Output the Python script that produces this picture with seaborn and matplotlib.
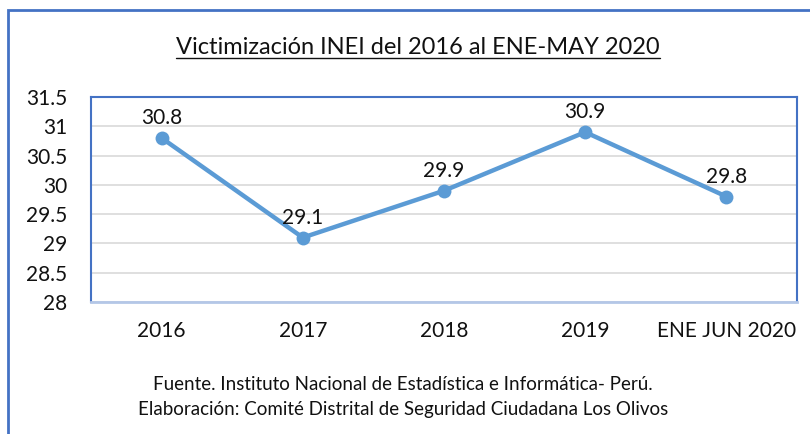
import numpy as np
import pandas as pd
import matplotlib
matplotlib.use("Agg")
import matplotlib.pyplot as plt
import matplotlib.patches as mpatches
from matplotlib.lines import Line2D
import seaborn as sns

# data
periodos = ["2016", "2017", "2018", "2019", "ENE JUN 2020"]
victimizacion = [30.8, 29.1, 29.9, 30.9, 29.8]
y_ticks = [28, 28.5, 29, 29.5, 30, 30.5, 31, 31.5]
y_labels = ["28", "28.5", "29", "29.5", "30", "30.5", "31", "31.5"]

df = pd.DataFrame({"periodo": periodos, "valor": victimizacion})

sns.set_style("white")
plt.rcParams["font.family"] = ["Lato", "DejaVu Sans"]

azul = "#5B9BD5"
marco = "#4472C4"

fig = plt.figure(figsize=(8.1, 4.34), dpi=100)
ax = fig.add_axes([91/810, 1-302/434, 706/810, 205/434])

sns.lineplot(data=df, x="periodo", y="valor", ax=ax, color=azul, linewidth=3.2,
             marker="o", markersize=10, markeredgewidth=0, sort=False)

# data labels
for i, v in enumerate(victimizacion):
    ax.annotate(f"{v}", (i, v), xytext=(0, 7), textcoords="offset points",
                ha="center", va="bottom", fontsize=15, color="#111111")

ax.set_xlim(-0.5, len(periodos) - 0.5)
ax.set_ylim(28, 31.5)
ax.set_yticks(y_ticks)
ax.set_yticklabels(y_labels)
ax.yaxis.grid(True, color="#D9D9D9", linewidth=1.2)
ax.set_axisbelow(True)
ax.set_xlabel("")
ax.set_ylabel("")
ax.tick_params(axis="both", length=0, labelsize=15, labelcolor="#111111")
ax.tick_params(axis="x", pad=14)
ax.tick_params(axis="y", pad=17)
for s in ["top", "left", "right"]:
    ax.spines[s].set_color(marco)
    ax.spines[s].set_linewidth(1.5)
ax.spines["bottom"].set_color("#B4C7E7")
ax.spines["bottom"].set_linewidth(2)

# title with underline
titulo = fig.text(418/810, 1-48/434, "Victimización INEI del 2016 al ENE-MAY 2020",
                  ha="center", va="center", fontsize=17, color="#111111")
fig.canvas.draw()
bb = titulo.get_window_extent().transformed(fig.transFigure.inverted())
fig.add_artist(Line2D([bb.x0, bb.x1], [bb.y0 + 0.002, bb.y0 + 0.002],
                      transform=fig.transFigure, color="#111111", linewidth=1))

# footer
fig.text(403/810, 1-385/434, "Fuente. Instituto Nacional de Estadística e Informática- Perú.",
         ha="center", va="center", fontsize=13.5, color="#111111")
fig.text(403/810, 1-410/434, "Elaboración: Comité Distrital de Seguridad Ciudadana Los Olivos",
         ha="center", va="center", fontsize=13.5, color="#111111")

# outer chart frame
fig.add_artist(mpatches.Rectangle((8/810, -0.1), 1.1, 1 - 10/434 + 0.1,
                                  transform=fig.transFigure, fill=False,
                                  edgecolor=marco, linewidth=2))

fig.savefig("out.png", dpi=100)
